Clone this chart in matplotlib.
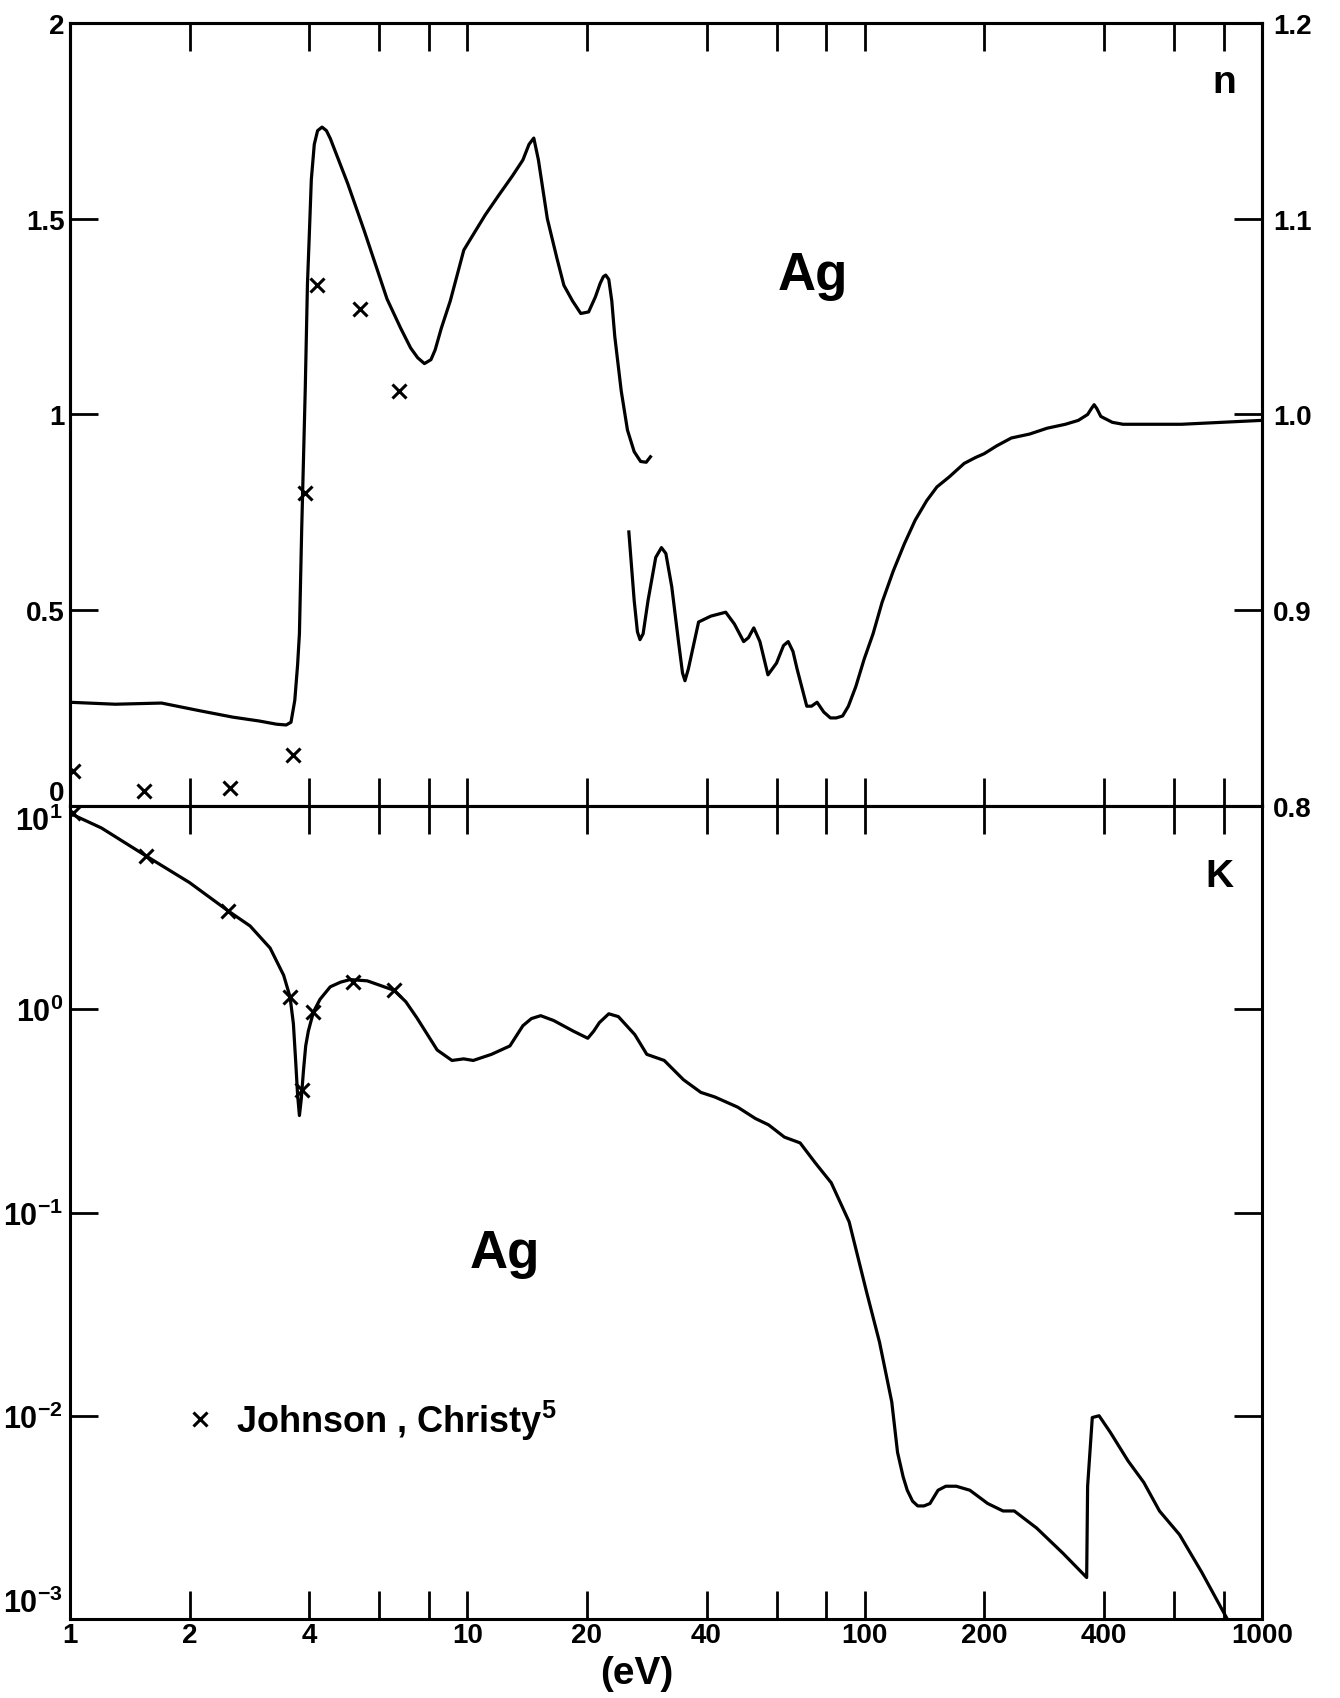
import matplotlib
matplotlib.use("Agg")
import matplotlib.pyplot as plt
from matplotlib.ticker import FixedLocator, FixedFormatter, NullLocator

# --------------------------------------------
# DATA
# --------------------------------------------
# refractive index n, low-energy branch (left axis, 0..2)
n_low_E = [1.0, 1.3, 1.7, 2.13, 2.57, 3.0, 3.31, 3.5, 3.6, 3.68, 3.74, 3.78, 3.83, 3.87, 3.91,
           3.96, 4.0, 4.05, 4.12, 4.2, 4.31, 4.42, 4.52, 5.0, 5.5, 6.28, 6.8, 7.2, 7.5, 7.8,
           8.1, 8.3, 8.6, 9.06, 9.8, 10.5, 11.1, 12.0, 13.0, 13.8, 14.3, 14.7, 15.1, 15.9,
           16.8, 17.5, 18.4, 19.3, 20.2, 21.0, 21.6, 22.0, 22.3, 22.7, 23.1, 23.5, 24.4, 25.3,
           26.3, 27.3, 28.2, 28.9]
n_low = [0.265, 0.26, 0.263, 0.243, 0.227, 0.217, 0.209, 0.207, 0.214, 0.27, 0.36, 0.44, 0.706,
         0.885, 1.065, 1.333, 1.45, 1.60, 1.69, 1.725, 1.734, 1.725, 1.705, 1.59, 1.47, 1.295,
         1.22, 1.17, 1.145, 1.13, 1.14, 1.165, 1.22, 1.29, 1.42, 1.47, 1.51, 1.56, 1.61, 1.65,
         1.69, 1.706, 1.65, 1.50, 1.40, 1.33, 1.29, 1.258, 1.262, 1.30, 1.335, 1.352, 1.356,
         1.345, 1.29, 1.20, 1.06, 0.96, 0.905, 0.88, 0.878, 0.892]

# refractive index n, high-energy branch (right axis, 0.8..1.2)
n_high_E = [25.5, 26.3, 26.8, 27.2, 27.7, 28.5, 29.8, 30.8, 31.6, 32.7, 34.0, 34.8, 35.3, 36.0,
            38.2, 41.0, 44.7, 47.0, 49.6, 51.0, 52.6, 54.5, 57.1, 60.0, 62.5, 64.2, 66.0, 67.6,
            71.5, 73.5, 75.9, 78.9, 82.0, 84.8, 88.0, 91.0, 95.0, 99.7, 105, 110.6, 118,
            125.9, 134, 143.3, 152, 163, 178, 190, 200, 215, 234, 260, 288, 320, 345, 364,
            372, 378, 384, 393, 420, 447, 627, 1000]
n_high = [0.940, 0.905, 0.889, 0.885, 0.888, 0.905, 0.927, 0.932, 0.929, 0.912, 0.884, 0.868,
          0.864, 0.870, 0.894, 0.897, 0.899, 0.893, 0.884, 0.886, 0.891, 0.884, 0.867, 0.873,
          0.882, 0.884, 0.879, 0.870, 0.851, 0.851, 0.853, 0.848, 0.845, 0.845, 0.846, 0.851,
          0.861, 0.875, 0.888, 0.904, 0.920, 0.934, 0.946, 0.956, 0.963, 0.968, 0.975, 0.978,
          0.980, 0.984, 0.988, 0.990, 0.993, 0.995, 0.997, 1.000, 1.003, 1.005, 1.003, 0.999,
          0.996, 0.995, 0.995, 0.997]

# extinction coefficient K
k_E = [1.0, 1.2, 1.55, 2.0, 2.5, 2.84, 3.19, 3.45, 3.58, 3.65, 3.70, 3.74, 3.78, 3.82, 3.87,
       3.92, 3.98, 4.1, 4.26, 4.52, 4.8, 5.07, 5.6, 6.54, 7.0, 7.46, 8.4, 9.15, 9.79, 10.35,
       11.5, 12.8, 13.8, 14.5, 15.3, 16.5, 18.5, 20.1, 20.8, 21.5, 22.7, 24.0, 26.4, 28.3,
       31.3, 35.0, 38.7, 42.0, 47.9, 53.1, 57.3, 62.8, 68.8, 75.2, 82.4, 91.4, 101, 109, 117,
       121, 125, 128, 132, 136, 141, 146, 153, 160, 170, 184, 204, 223, 238, 271, 316, 362,
       364, 374, 389, 415, 460, 504, 552, 620, 705, 813]
k_val = [9.2, 7.8, 5.7, 4.2, 3.05, 2.57, 2.0, 1.47, 1.15, 0.85, 0.55, 0.38, 0.30, 0.36, 0.50,
         0.66, 0.78, 0.97, 1.12, 1.29, 1.36, 1.40, 1.38, 1.24, 1.09, 0.91, 0.63, 0.56, 0.57,
         0.56, 0.60, 0.66, 0.83, 0.90, 0.93, 0.88, 0.78, 0.72, 0.78, 0.86, 0.95, 0.92, 0.75,
         0.60, 0.56, 0.45, 0.39, 0.37, 0.33, 0.29, 0.27, 0.235, 0.22, 0.175, 0.14, 0.09, 0.041,
         0.023, 0.0117, 0.0066, 0.0050, 0.0043, 0.0038, 0.0036, 0.0036, 0.0037, 0.0043, 0.0045,
         0.0045, 0.0043, 0.0037, 0.0034, 0.0034, 0.0028, 0.0021, 0.0016, 0.0045, 0.0098,
         0.0100, 0.0083, 0.0060, 0.0047, 0.0034, 0.0026, 0.0017, 0.00102]

# Johnson, Christy points
jc_n_E = [1.02, 1.54, 2.53, 3.65, 3.91, 4.18, 5.37, 6.73]
jc_n = [0.09, 0.038, 0.046, 0.13, 0.80, 1.33, 1.27, 1.06]
jc_k_E = [1.02, 1.55, 2.5, 3.58, 3.83, 4.10, 5.17, 6.54]
jc_k = [9.2, 5.7, 3.05, 1.15, 0.40, 0.97, 1.36, 1.24]

# axis ticks
x_ticks = [2, 4, 6, 8, 10, 20, 40, 60, 80, 100, 200, 400, 600, 800]
x_label_ticks = [1, 2, 4, 6, 8, 10, 20, 40, 60, 80, 100, 200, 400, 600, 800, 1000]
x_labels = ['1', '2', '4', '', '', '10', '20', '40', '', '', '100', '200', '400', '', '', '1000']
n_ticks = [0, 0.5, 1, 1.5, 2]
n_labels = ['0', '0.5', '1', '1.5', '2']
nr_ticks = [0.8, 0.9, 1.0, 1.1, 1.2]
nr_labels = ['0.8', '0.9', '1.0', '1.1', '1.2']
k_ticks = [1e-3, 1e-2, 1e-1, 1e0, 1e1]
k_labels = [r'$\mathbf{10^{-3}}$', r'$\mathbf{10^{-2}}$', r'$\mathbf{10^{-1}}$',
            r'$\mathbf{10^{0}}$', r'$\mathbf{10^{1}}$']

# --------------------------------------------
# STYLE
# --------------------------------------------
plt.rcParams['font.family'] = ['Liberation Sans', 'DejaVu Sans']
plt.rcParams['font.weight'] = 'bold'
plt.rcParams['mathtext.fontset'] = 'custom'
plt.rcParams['mathtext.bf'] = 'Liberation Sans:bold'
plt.rcParams['mathtext.rm'] = 'Liberation Sans:bold'
plt.rcParams['axes.linewidth'] = 2.2

LW = 2.3
TICK_LEN = 20
TICK_W = 2.0
FS_TICK = 20

fig = plt.figure(figsize=(13.4, 16.99), dpi=100)
ax_n = fig.add_axes([0.0522, 0.5250, 0.8896, 0.4609])
ax_k = fig.add_axes([0.0522, 0.0465, 0.8896, 0.4785])
ax_r = ax_n.twinx()

# --------------------------------------------
# TOP PANEL: n
# --------------------------------------------
ax_n.plot(n_low_E, n_low, color='black', lw=LW, solid_joinstyle='round')
ax_n.plot(jc_n_E, jc_n, 'x', color='black', ms=10, mew=2.2)
ax_r.plot(n_high_E, n_high, color='black', lw=LW, solid_joinstyle='round')

for ax in (ax_n, ax_r, ax_k):
    ax.set_xscale('log')
    ax.set_xlim(1, 1000)
    ax.xaxis.set_major_locator(FixedLocator(x_ticks))
    ax.xaxis.set_minor_locator(NullLocator())

ax_n.set_ylim(0, 2)
ax_r.set_ylim(0.8, 1.2)

ax_n.tick_params(axis='x', which='both', direction='in', top=True, bottom=True,
                 labelbottom=False, length=TICK_LEN, width=TICK_W)
ax_n.yaxis.set_major_locator(FixedLocator(n_ticks))
ax_n.yaxis.set_major_formatter(FixedFormatter(n_labels))
ax_n.tick_params(axis='y', direction='in', length=TICK_LEN, width=TICK_W,
                 labelsize=FS_TICK, pad=4)
ax_r.yaxis.set_major_locator(FixedLocator(nr_ticks))
ax_r.yaxis.set_major_formatter(FixedFormatter(nr_labels))
ax_r.tick_params(axis='y', direction='in', length=TICK_LEN, width=TICK_W,
                 labelsize=FS_TICK, pad=8)

for lbl in ax_n.get_yticklabels():
    if lbl.get_text() == '0':
        lbl.set_va('bottom')

ax_n.text(0.968, 0.925, 'n', transform=ax_n.transAxes, fontsize=28,
          ha='center', va='center')
ax_n.text(0.623, 0.678, 'Ag', transform=ax_n.transAxes, fontsize=38,
          ha='center', va='center')

# --------------------------------------------
# BOTTOM PANEL: K
# --------------------------------------------
ax_k.plot(k_E, k_val, color='black', lw=LW, solid_joinstyle='round')
ax_k.plot(jc_k_E, jc_k, 'x', color='black', ms=10, mew=2.2,
          label=r'Johnson , Christy$^{\mathbf{5}}$')
ax_k.set_yscale('log')
ax_k.set_ylim(1e-3, 1e1)
ax_k.yaxis.set_major_locator(FixedLocator(k_ticks))
ax_k.yaxis.set_major_formatter(FixedFormatter(k_labels))
ax_k.yaxis.set_minor_locator(NullLocator())
ax_k.tick_params(axis='y', direction='in', left=True, right=True, length=TICK_LEN,
                 width=TICK_W, labelsize=22, pad=5)

ax_k.xaxis.set_major_locator(FixedLocator(x_label_ticks))
ax_k.xaxis.set_major_formatter(FixedFormatter(x_labels))
ax_k.tick_params(axis='x', direction='in', top=True, bottom=True, length=TICK_LEN,
                 width=TICK_W, labelsize=FS_TICK, pad=2)

for lbl in ax_k.get_yticklabels():
    if '{1}' in lbl.get_text():
        lbl.set_va('top')
    elif '{-3}' in lbl.get_text():
        lbl.set_va('bottom')

ax_k.text(0.964, 0.914, 'K', transform=ax_k.transAxes, fontsize=28,
          ha='center', va='center')
ax_k.text(0.365, 0.45, 'Ag', transform=ax_k.transAxes, fontsize=38,
          ha='center', va='center')
ax_k.legend(loc=(0.094, 0.218), frameon=False, fontsize=26, handlelength=1.0,
            handletextpad=0.5, numpoints=1, borderpad=0)

fig.text(0.475, 0.0147, '(eV)', fontsize=28, ha='center', va='center')

plt.savefig("out.png", dpi=100)
plt.close()
